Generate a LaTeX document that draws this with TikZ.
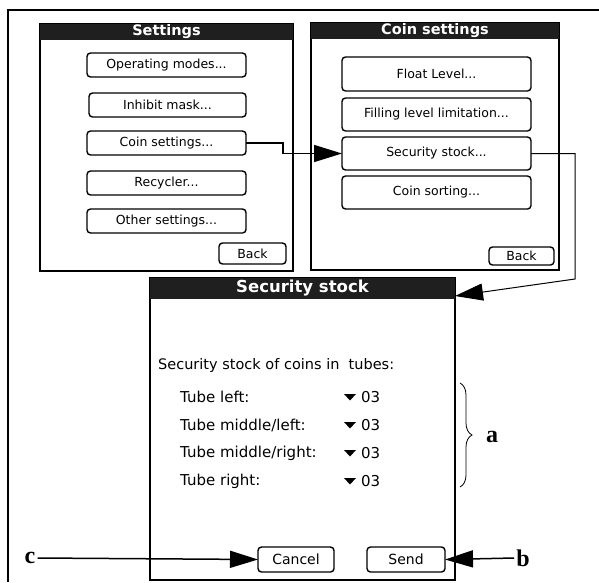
\documentclass[tikz,border=0pt]{standalone}
\usepackage{fontspec}
\usetikzlibrary{arrows.meta,decorations.pathreplacing}
\newfontfamily\palm{DejaVu Sans}
\newfontfamily\lblfont{Liberation Serif}
\tikzset{
  screen/.style={draw=black, line width=1.4pt, fill=white, inner sep=0pt, outer sep=0pt},
  titlebar/.style={fill=black!88, text=white, inner sep=0pt, outer sep=0pt, font=\palm\bfseries\fontsize{14.5}{15}\selectfont},
  btn/.style={draw=black, line width=1.4pt, rounded corners=3.5pt, inner sep=0pt, outer sep=0pt, font=\palm\fontsize{12.5}{13}\selectfont},
  conn/.style={draw=black, line width=1.5pt, -{Triangle[length=28pt,width=17pt]}},
  thinconn/.style={draw=black, line width=1pt, -{Triangle[length=28pt,width=17pt]}},
  lbl/.style={font=\lblfont\bfseries\fontsize{24}{26}\selectfont, inner sep=2pt},
  rowtxt/.style={font=\palm\fontsize{15}{16}\selectfont, anchor=west, inner sep=0pt},
}
\begin{document}
\begin{tikzpicture}[x=1pt,y=-1pt]
\useasboundingbox (0,0) rectangle (599,582);
% outer frame
\draw[line width=2pt] (599,10) -- (8,10) -- (8,582);

% Settings screen
\node[screen, minimum width=253pt, minimum height=247pt] (s1) at (166.5,147.5) {};
\node[titlebar, minimum width=253pt, minimum height=16pt, anchor=north] (t1) at (s1.north) {Settings};
\node[btn, minimum width=159pt, minimum height=24pt] (opm) at (166.5,65) {Operating modes...};
\node[btn, minimum width=157pt, minimum height=24pt] (inh) at (167.5,105) {Inhibit mask...};
\node[btn, minimum width=159pt, minimum height=24pt] (coinset) at (166.5,143) {Coin settings...};
\node[btn, minimum width=159pt, minimum height=24pt] (recy) at (166.5,183) {Recycler...};
\node[btn, minimum width=159pt, minimum height=24pt] (oth) at (166.5,221) {Other settings...};
\node[btn, minimum width=67pt, minimum height=21pt] (back1) at (252.5,253.5) {Back};

% Coin settings screen
\node[screen, minimum width=248pt, minimum height=247pt] (s2) at (435,146.5) {};
\node[titlebar, minimum width=248pt, minimum height=16pt, anchor=north] (t2) at (s2.north) {Coin settings};
\node[btn, minimum width=189pt, minimum height=34pt, font=\palm\fontsize{12.5}{13}\selectfont] (flt) at (436.5,74) {Float Level...};
\node[btn, minimum width=189pt, minimum height=33pt, font=\palm\fontsize{12.5}{13}\selectfont] (fill) at (436.5,114.5) {Filling level limitation...};
\node[btn, minimum width=189pt, minimum height=33pt, font=\palm\fontsize{12.5}{13}\selectfont] (secstock) at (436.5,153.5) {Security stock...};
\node[btn, minimum width=189pt, minimum height=33pt, font=\palm\fontsize{12.5}{13}\selectfont] (sort) at (436.5,192.5) {Coin sorting...};
\node[btn, minimum width=65pt, minimum height=18pt] (back2) at (521.5,256) {Back};

% Security stock screen
\node[screen, minimum width=305pt, minimum height=302pt] (s3) at (302.5,429) {};
\node[titlebar, minimum width=305pt, minimum height=21pt, anchor=north, font=\palm\bfseries\fontsize{16.5}{17}\selectfont] (t3) at (s3.north) {Security stock};
\node[rowtxt, font=\palm\fontsize{14.5}{15}\selectfont] (intro) at (158,365) {Security stock of coins in\ \ tubes:};
\node[rowtxt] (r1) at (180,397) {Tube left:};
\node[rowtxt] (r2) at (180,425) {Tube middle/left:};
\node[rowtxt] (r3) at (180,453) {Tube middle/right:};
\node[rowtxt] (r4) at (180,481) {Tube right:};
\foreach \yy/\nm in {397/v1,425/v2,453/v3,481/v4}{
  \fill (344,\yy-3) -- (356,\yy-3) -- (350,\yy+3.5) -- cycle;
  \node[rowtxt] (\nm) at (361,\yy) {03};
}
\node[btn, minimum width=76pt, minimum height=25pt, font=\palm\fontsize{14}{15}\selectfont] (cancel) at (296,559.5) {Cancel};
\node[btn, minimum width=78pt, minimum height=25pt, font=\palm\fontsize{14}{15}\selectfont] (send) at (406,559.5) {Send};

% brace
\coordinate (bt) at (460,383);
\coordinate (bb) at (460,487);
\draw[line width=0.8pt, decorate, decoration={brace, amplitude=12pt}] (bt) -- (bb);
\node[lbl] (a) at (492,437) {a};
\node[lbl] (b) at (523,558) {b};
\node[lbl] (c) at (30,558) {c};

% connectors
\coordinate (bend1) at (283,143);
\draw[conn] (coinset.east) -- (bend1) |- (secstock.west);
\coordinate (bend2) at (575,153.5);
\coordinate (bend3) at (575,279);
\coordinate (tip3) at (455,296);
\draw[thinconn] (secstock.east) -- (bend2) -- (bend3) -- (tip3);
\draw[conn] (c.east) -- (cancel.west);
\draw[conn] (b.west) -- (send.east);
\end{tikzpicture}
\end{document}
